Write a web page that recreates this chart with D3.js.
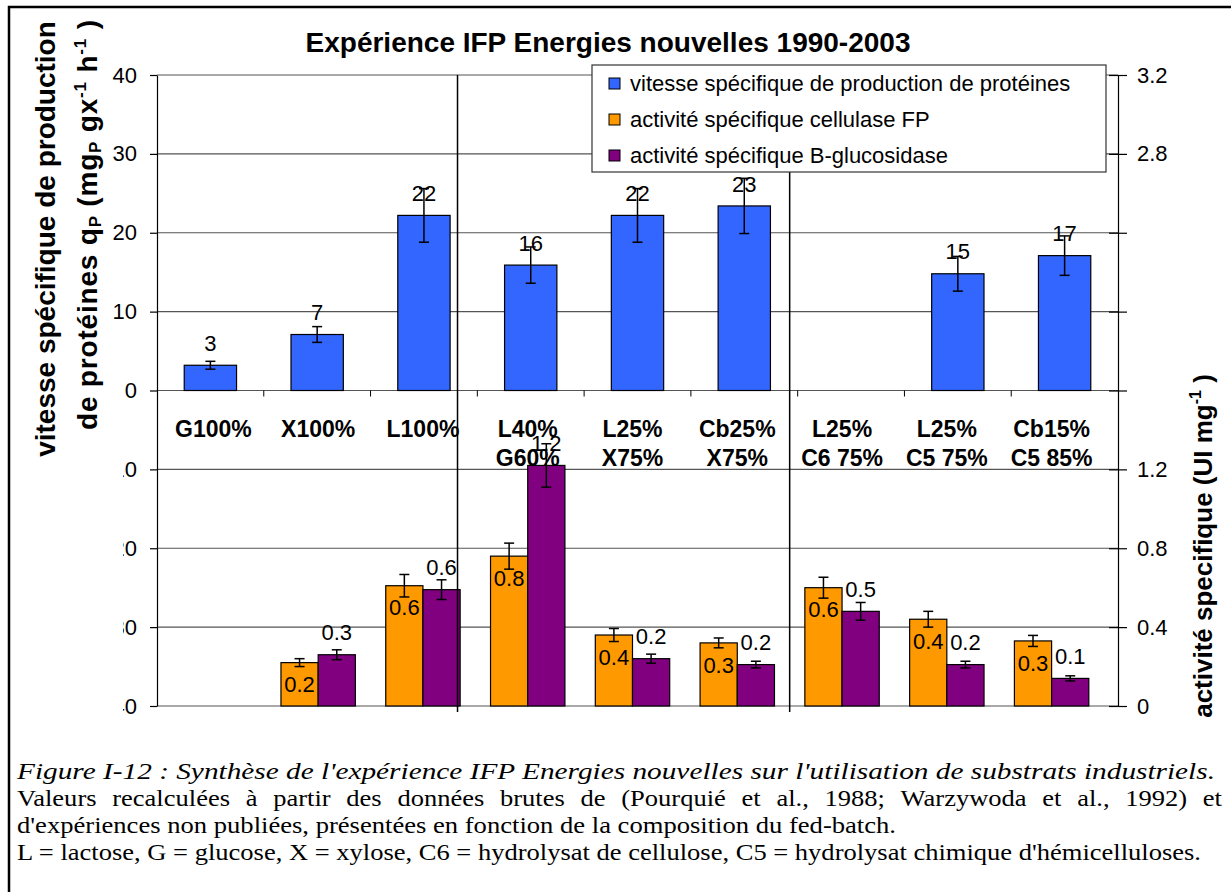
<!DOCTYPE html>
<meta charset="utf-8">
<style>
body { margin: 0; background: #fff; }
svg text { font-family: Arial, "Liberation Sans", sans-serif; fill: #000; }
.caption text { font-family: "Liberation Serif", "Times New Roman", serif; }
</style>
<body>
<script src="https://cdnjs.cloudflare.com/ajax/libs/d3/7.8.5/d3.min.js"></script>
<script>

// categories (fed-batch composition), two lines each
var categories = [["G100%"], ["X100%"], ["L100%"], ["L40%", "G60%"], ["L25%", "X75%"],
                  ["Cb25%", "X75%"], ["L25%", "C6 75%"], ["L25%", "C5 75%"], ["Cb15%", "C5 85%"]];

// vitesse specifique de production de proteines (left axis, top)
var proteinRate = [3.2, 7.1, 22.2, 15.9, 22.2, 23.4, null, 14.8, 17.1];
var proteinErr  = [0.5, 1.0, 3.4, 2.3, 3.4, 3.5, null, 2.2, 2.5];

// activite specifique cellulase FP (right axis)
var cellulaseFP  = [null, 0.22, 0.61, 0.76, 0.36, 0.32, 0.60, 0.44, 0.33];
var cellulaseErr = [null, 0.02, 0.057, 0.066, 0.033, 0.025, 0.053, 0.04, 0.028];

// activite specifique B-glucosidase (right axis)
var glucosidase    = [null, 0.26, 0.59, 1.22, 0.24, 0.21, 0.48, 0.21, 0.14];
var glucosidaseErr = [null, 0.025, 0.05, 0.11, 0.023, 0.017, 0.045, 0.017, 0.013];

// ticks
var leftTicks = [0, 10, 20, 30, 40];
var lowerLeftTicks = [10, 20, 30, 40];
var rightTicks = [0, 0.4, 0.8, 1.2, 1.6, 2.0, 2.4, 2.8, 3.2];
var rightLabels = [0, 0.4, 0.8, 1.2, 2.8, 3.2];

// separator lines, in category units on the lower scale
var separators = [2.83, 6.0];

var seriesNames = ["vitesse spécifique de production de protéines",
                   "activité spécifique cellulase FP",
                   "activité spécifique B-glucosidase"];
var colors = ["#3366ff", "#ff9900", "#800080"];

var captionLines = [
  "Figure I-12 : Synthèse de l'expérience IFP Energies nouvelles sur l'utilisation de substrats industriels.",
  "Valeurs recalculées à partir des données brutes de (Pourquié et al., 1988; Warzywoda et al., 1992) et",
  "d'expériences non publiées, présentées en fonction de la composition du fed-batch.",
  "L = lactose, G = glucose, X = xylose, C6 = hydrolysat de cellulose, C5 = hydrolysat chimique d'hémicelluloses."
];

var W = 1231, H = 892;
var plot = {left: 157, right: 1118, top: 75, bottom: 706};

var svg = d3.select("body").append("svg")
    .attr("width", W)
    .attr("height", H);

// frame
svg.append("path")
    .attr("d", "M9," + H + "V7H" + W)
    .attr("fill", "none")
    .attr("stroke", "#000")
    .attr("stroke-width", 2.5);

var idx = d3.range(categories.length);
var xTop = d3.scaleBand().domain(idx).range([plot.left, plot.right]);
var xLow = d3.scaleBand().domain(idx).range([161, 1104]);
var yRight = d3.scaleLinear().domain([0, 3.2]).range([plot.bottom, plot.top]);
var yTop = d3.scaleLinear().domain([0, 40]).range([yRight(1.6), plot.top]);
var yLowLeft = d3.scaleLinear().domain([0, 40]).range([yRight(1.6), plot.bottom]);

// gridlines
var grid = svg.append("g");
grid.selectAll(".gt").data(leftTicks).enter().append("line")
    .attr("x1", plot.left).attr("x2", plot.right)
    .attr("y1", function(d) { return yTop(d); })
    .attr("y2", function(d) { return yTop(d); })
    .attr("stroke", "#555").attr("stroke-width", 1.2);
grid.selectAll(".gl").data(lowerLeftTicks).enter().append("line")
    .attr("x1", plot.left).attr("x2", plot.right)
    .attr("y1", function(d) { return yLowLeft(d); })
    .attr("y2", function(d) { return yLowLeft(d); })
    .attr("stroke", "#555").attr("stroke-width", 1.2);

// x ticks under the top chart
svg.append("g").selectAll("line")
    .data(d3.range(1, categories.length))
    .enter().append("line")
    .attr("x1", function(i) { return xTop(i); })
    .attr("x2", function(i) { return xTop(i); })
    .attr("y1", yTop(0)).attr("y2", yTop(0) + 6)
    .attr("stroke", "#000");

// left axis (top)
var la = svg.append("g")
    .attr("transform", "translate(" + plot.left + ",0)")
    .call(d3.axisLeft(yTop).tickValues(leftTicks).tickSize(7).tickSizeOuter(0).tickPadding(13));
// lower left axis, labels clipped
svg.append("clipPath").attr("id", "lowclip")
  .append("rect").attr("x", 123).attr("y", 0).attr("width", 200).attr("height", H);
var lla = svg.append("g")
    .attr("clip-path", "url(#lowclip)")
  .append("g")
    .attr("transform", "translate(" + plot.left + ",0)")
    .call(d3.axisLeft(yLowLeft).tickValues(lowerLeftTicks).tickSize(7).tickSizeOuter(0).tickPadding(13));
[la, lla].forEach(function(a) {
  a.selectAll("text").style("font-size", "22px").style("font-family", "Arial, 'Liberation Sans', sans-serif");
  a.selectAll("line, path").attr("stroke", "#000").attr("stroke-width", 1.2);
});

// right axis
var ra = svg.append("g")
    .attr("transform", "translate(" + plot.right + ",0)")
    .call(d3.axisRight(yRight).tickValues(rightTicks).tickSize(9).tickSizeOuter(0).tickPadding(10)
      .tickFormat(function(d) { return rightLabels.indexOf(d) >= 0 ? String(d) : ""; }));
ra.selectAll(".tick line").attr("x1", -9);
ra.selectAll("text").style("font-size", "22px").style("font-family", "Arial, 'Liberation Sans', sans-serif");
ra.selectAll("line, path").attr("stroke", "#000").attr("stroke-width", 1.2);

// blue bars
var bwTop = xTop.bandwidth() * 0.49;
var blue = idx.filter(function(i) { return proteinRate[i] != null; });
svg.append("g").selectAll("rect").data(blue).enter().append("rect")
    .attr("x", function(i) { return xTop(i) + (xTop.bandwidth() - bwTop) / 2; })
    .attr("y", function(i) { return yTop(proteinRate[i]); })
    .attr("width", bwTop)
    .attr("height", function(i) { return yTop(0) - yTop(proteinRate[i]); })
    .attr("fill", colors[0]).attr("stroke", "#000").attr("stroke-width", 1.2);

// orange + purple bars
var bwLow = xLow.bandwidth() * 0.355;
function lowCenter(i) { return xLow(i) + xLow.bandwidth() / 2; }
var low = idx.filter(function(i) { return cellulaseFP[i] != null; });
svg.append("g").selectAll("rect").data(low).enter().append("rect")
    .attr("x", function(i) { return lowCenter(i) - bwLow; })
    .attr("y", function(i) { return yRight(cellulaseFP[i]); })
    .attr("width", bwLow)
    .attr("height", function(i) { return yRight(0) - yRight(cellulaseFP[i]); })
    .attr("fill", colors[1]).attr("stroke", "#000").attr("stroke-width", 1.2);
svg.append("g").selectAll("rect").data(low).enter().append("rect")
    .attr("x", function(i) { return lowCenter(i); })
    .attr("y", function(i) { return yRight(glucosidase[i]); })
    .attr("width", bwLow)
    .attr("height", function(i) { return yRight(0) - yRight(glucosidase[i]); })
    .attr("fill", colors[2]).attr("stroke", "#000").attr("stroke-width", 1.2);

// error bars
function errorBars(list, cx, y, vals, errs) {
  var g = svg.append("g").attr("stroke", "#000").attr("stroke-width", 1.5);
  list.forEach(function(i) {
    var x = cx(i), hi = y(vals[i] + errs[i]), lo = y(vals[i] - errs[i]);
    g.append("line").attr("x1", x).attr("x2", x).attr("y1", hi).attr("y2", lo);
    g.append("line").attr("x1", x - 5).attr("x2", x + 5).attr("y1", hi).attr("y2", hi);
    g.append("line").attr("x1", x - 5).attr("x2", x + 5).attr("y1", lo).attr("y2", lo);
  });
}
errorBars(blue, function(i) { return xTop(i) + xTop.bandwidth() / 2; }, yTop, proteinRate, proteinErr);
errorBars(low, function(i) { return lowCenter(i) - bwLow / 2; }, yRight, cellulaseFP, cellulaseErr);
errorBars(low, function(i) { return lowCenter(i) + bwLow / 2; }, yRight, glucosidase, glucosidaseErr);

// value labels
var f0 = d3.format(".0f"), f1 = d3.format(".1f");
svg.append("g").selectAll("text").data(blue).enter().append("text")
    .attr("x", function(i) { return xTop(i) + xTop.bandwidth() / 2; })
    .attr("y", function(i) { return yTop(proteinRate[i]) - 22; })
    .attr("dy", ".35em").attr("text-anchor", "middle").style("font-size", "22px")
    .text(function(i) { return f0(proteinRate[i]); });
svg.append("g").selectAll("text").data(low).enter().append("text")
    .attr("x", function(i) { return lowCenter(i) - bwLow / 2; })
    .attr("y", function(i) { return yRight(cellulaseFP[i]) + 22; })
    .attr("dy", ".35em").attr("text-anchor", "middle").style("font-size", "22px")
    .text(function(i) { return f1(cellulaseFP[i]); });
svg.append("g").selectAll("text").data(low).enter().append("text")
    .attr("x", function(i) { return lowCenter(i) + bwLow / 2; })
    .attr("y", function(i) { return yRight(glucosidase[i]) - 22; })
    .attr("dy", ".35em").attr("text-anchor", "middle").style("font-size", "22px")
    .text(function(i) { return f1(glucosidase[i]); });

// category labels
var cl = svg.append("g").selectAll("text").data(idx).enter().append("text")
    .attr("text-anchor", "middle")
    .style("font-size", "23px").style("font-weight", "bold");
cl.each(function(i) {
  var t = d3.select(this);
  categories[i].forEach(function(s, k) {
    t.append("tspan")
      .attr("x", lowCenter(i))
      .attr("y", yTop(0) + 38 + k * 29)
      .attr("dy", ".35em")
      .text(s);
  });
});

// separators
svg.append("line")
    .attr("x1", xLow(0) + separators[0] * xLow.step()).attr("x2", xLow(0) + separators[0] * xLow.step())
    .attr("y1", plot.top).attr("y2", plot.bottom + 6)
    .attr("stroke", "#000").attr("stroke-width", 1.5);
svg.append("line")
    .attr("x1", xLow(0) + separators[1] * xLow.step()).attr("x2", xLow(0) + separators[1] * xLow.step())
    .attr("y1", 172).attr("y2", plot.bottom + 6)
    .attr("stroke", "#000").attr("stroke-width", 1.5);

// legend
var lg = svg.append("g").attr("transform", "translate(592,65)");
lg.append("rect").attr("width", 514).attr("height", 107)
    .attr("fill", "#fff").attr("stroke", "#333").attr("stroke-width", 1.2);
seriesNames.forEach(function(s, k) {
  var row = lg.append("g").attr("transform", "translate(0," + (18 + k * 36) + ")");
  row.append("rect").attr("x", 17).attr("y", -5).attr("width", 11).attr("height", 11)
     .attr("fill", colors[k]).attr("stroke", "#000").attr("stroke-width", 1);
  row.append("text").attr("x", 38).attr("dy", ".35em").style("font-size", "22px").text(s);
});

// title
svg.append("text")
    .attr("x", 608).attr("y", 42).attr("dy", ".35em")
    .attr("text-anchor", "middle")
    .style("font-size", "28px").style("font-weight", "bold")
    .text("Expérience IFP Energies nouvelles 1990-2003");

// left axis title
svg.append("text")
    .attr("transform", "translate(45,239)rotate(-90)")
    .attr("text-anchor", "middle").attr("dy", ".35em")
    .style("font-size", "28px").style("font-weight", "bold")
    .text("vitesse spécifique de production");
var t2 = svg.append("text")
    .attr("transform", "translate(87,225)rotate(-90)")
    .attr("text-anchor", "middle").attr("dy", ".35em")
    .attr("textLength", 410).attr("lengthAdjust", "spacing")
    .style("font-size", "28px").style("font-weight", "bold");
t2.append("tspan").text("de protéines q");
t2.append("tspan").attr("dy", 4).style("font-size", "17px").text("P");
t2.append("tspan").attr("dy", -4).text(" (mg");
t2.append("tspan").attr("dy", 4).style("font-size", "17px").text("P");
t2.append("tspan").attr("dy", -4).text(" gx");
t2.append("tspan").attr("dy", -11).style("font-size", "17px").text("-1");
t2.append("tspan").attr("dy", 11).text(" h");
t2.append("tspan").attr("dy", -11).style("font-size", "17px").text("-1");
t2.append("tspan").attr("dy", 11).text(" )");

// right axis title
var t3 = svg.append("text")
    .attr("transform", "translate(1203,546)rotate(-90)")
    .attr("text-anchor", "middle").attr("dy", ".35em")
    .style("font-size", "26px").style("font-weight", "bold");
t3.append("tspan").text("activité specifique (UI mg");
t3.append("tspan").attr("dy", -11).style("font-size", "16px").text("-1");
t3.append("tspan").attr("dy", 11).text(" )");

// caption, stretched to the widths of the original figure text
var cap = svg.append("g").attr("class", "caption").style("font-size", "24px");
var capY = [779, 806, 833, 860];
var capRight = [1215, 1222, 896, 1201];
var capLeft = 17;
var c0 = cap.append("text").attr("x", capLeft).attr("y", capY[0]).style("font-style", "italic").text(captionLines[0]);
c0.attr("textLength", capRight[0] - capLeft).attr("lengthAdjust", "spacingAndGlyphs");
var c3 = cap.append("text").attr("x", capLeft).attr("y", capY[3]).text(captionLines[3]);
var sx = (capRight[3] - capLeft) / c3.node().getComputedTextLength();
c3.attr("textLength", capRight[3] - capLeft).attr("lengthAdjust", "spacingAndGlyphs");
cap.append("text").attr("x", capLeft).attr("y", capY[2]).text(captionLines[2])
    .attr("textLength", capRight[2] - capLeft).attr("lengthAdjust", "spacingAndGlyphs");
// justified line
(function() {
  var words = captionLines[1].split(" ");
  var nodes = words.map(function(w) {
    return cap.append("text").attr("y", capY[1]).text(w);
  });
  var widths = nodes.map(function(n) { return n.node().getComputedTextLength() * sx; });
  var gap = (capRight[1] - capLeft - d3.sum(widths)) / (words.length - 1);
  var x = capLeft;
  nodes.forEach(function(n, k) {
    n.attr("x", x).attr("textLength", widths[k]).attr("lengthAdjust", "spacingAndGlyphs");
    x += widths[k] + gap;
  });
})();

</script>
</body>
